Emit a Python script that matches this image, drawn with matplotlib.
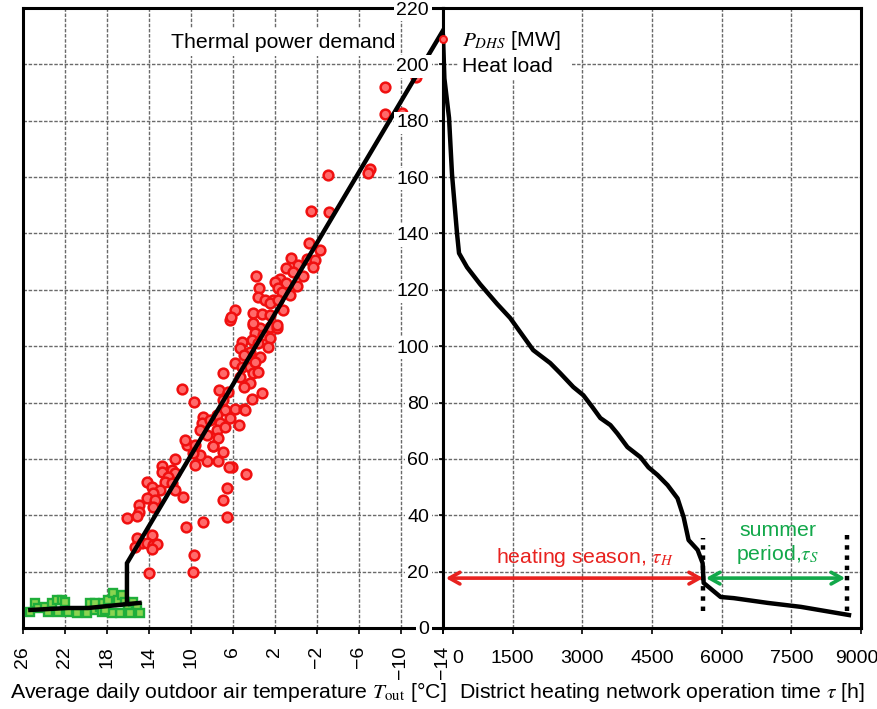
import matplotlib
matplotlib.use("Agg")
import matplotlib.pyplot as plt
from matplotlib.patches import Rectangle
from matplotlib.transforms import ScaledTranslation

plt.rcParams['font.family'] = ['Liberation Sans', 'DejaVu Sans']
plt.rcParams['mathtext.fontset'] = 'stix'

RED = '#e8221f'
GREEN = '#12a84a'

# daily points, heating season (outdoor temp [C], heat demand [MW])
heat_T = [11.5, 12.8, 12.8, 11.8, 11.5, 12.2, 14.2, 12.5, 13.7, 11.8,
          13.0, 13.6, 14.2, 13.4, 15.0, 13.6, 15.0, 15.1, 16.1, 11.5,
          10.8, 10.5, 8.9, 6.6, 7.0, 6.6, 6.1, 4.8, 7.4, 8.5,
          9.6, 9.1, 7.0, 7.9, 9.8, 10.4, 15.1, 13.7, 14.7, 14.2,
          13.6, 13.2, 13.7, 15.3, 9.7, 14.0, 9.8,
          6.3, 4.1, 3.4, 2.5, 1.8, 3.9, 3.1, 2.5, 4.2, 5.1,
          3.6, 2.7, 5.3, 4.4, 5.0, 3.4, 5.8, 5.1, 4.4, 3.9,
          7.0, 4.1, 5.3, 3.6, 4.4, 5.0, 7.3, 6.5, 10.9, 9.7,
          4.2, 3.2, 7.0, 6.8, 5.8, 5.0, 8.9, 7.5, 6.3, 9.0,
          8.2, 7.2, 9.1, 7.5, 6.8, 5.4, 8.5, 7.4, 10.6, 9.6, 7.9,
          -1.4, -3.1, -1.2, -2.3, 0.5, -1.0, -1.8, -0.2, 1.0, -1.6,
          0.3, 3.8, -0.7, 1.5, 2.0, 1.0, 3.5, 1.7, -0.1, 1.3,
          0.6, 3.6, 3.0, 2.2, 2.5, 1.7, 5.8, 6.2, 4.1, 3.2,
          2.5, 1.2, 4.1, 1.8,
          -8.5, -8.5, -10.1, -11.4, -7.0, -6.9, -3.0, 6.4, 4.9]
heat_P = [59.9, 57.4, 55.3, 56.0, 55.0, 53.5, 51.8, 51.8, 50.0, 51.4,
          48.9, 47.9, 46.1, 45.4, 43.6, 42.9, 41.1, 39.7, 39.0, 48.9,
          46.5, 35.8, 37.6, 39.4, 45.4, 49.6, 57.1, 54.6, 59.2, 59.2,
          57.8, 61.3, 62.4, 64.5, 62.1, 64.9, 31.9, 33.0, 30.1, 30.1,
          29.4, 29.8, 28.0, 28.7, 25.9, 19.5, 19.9,
          109.2, 107.4, 106.4, 106.7, 106.4, 104.6, 103.9, 102.8, 102.1, 101.4,
          101.1, 99.6, 99.3, 97.9, 96.8, 96.1, 94.0, 92.6, 92.6, 94.3,
          90.4, 90.4, 89.0, 90.8, 86.9, 85.5, 84.4, 83.7, 84.8, 80.1,
          81.2, 83.3, 80.9, 77.3, 77.7, 77.7, 74.8, 75.5, 74.5, 72.7,
          73.8, 72.7, 70.2, 70.2, 71.3, 72.0, 68.4, 67.4, 66.7, 64.9, 64.5,
          147.9, 147.5, 136.5, 134.0, 131.2, 130.9, 130.5, 128.7, 127.7, 128.0,
          126.2, 124.8, 124.8, 123.8, 122.7, 122.3, 120.6, 120.6, 121.3, 119.1,
          118.1, 117.4, 116.3, 116.3, 115.2, 116.3, 112.8, 110.3, 111.7, 111.3,
          111.0, 112.8, 108.2, 107.4,
          191.8, 182.3, 182.6, 195.4, 162.8, 161.3, 160.6, 57.1, 77.3]

# daily points, summer
summer_T = [25.3, 24.9, 24.6, 23.9, 23.2, 22.8, 22.3, 22.0, 23.6, 22.7,
            21.7, 20.9, 19.9, 19.1, 18.7, 18.4, 17.9, 17.4, 17.0, 16.6,
            16.3, 16.0, 15.5, 15.1, 14.9, 15.8, 16.8, 17.5, 18.5, 19.6,
            19.1, 18.2]
summer_P = [5.7, 8.9, 7.1, 7.4, 8.9, 9.9, 9.9, 9.2, 5.7, 5.7,
            5.7, 5.3, 5.3, 6.4, 7.4, 8.9, 9.9, 12.4, 9.9, 11.7,
            9.2, 7.4, 9.2, 7.4, 5.3, 5.3, 5.3, 5.3, 5.7, 8.9,
            8.9, 6.4]

# fitted demand lines
fit_summer_T = [25.3, 21.7, 19.8, 14.9]
fit_summer_P = [6.4, 7.1, 7.1, 8.9]
fit_heat_T = [16.1, 16.1, -14]
fit_heat_P = [8.6, 23, 212]

# heat load duration curve
dur_h = [0, 30, 130, 194, 302, 345, 518, 799, 1165, 1446, 1619, 1942, 2309,
         2525, 2806, 3022, 3216, 3388, 3604, 3755, 3971, 4252, 4424, 4619,
         4835, 5050, 5180, 5288, 5482, 5590, 5612, 5978, 6259, 6993, 7705, 8741]
dur_P = [210, 195, 181, 161, 140, 133, 128, 122, 115, 110, 106, 98.6, 94,
         90.4, 85.5, 82.6, 78.4, 74.5, 72, 69, 64.2, 60.6, 57, 54.3,
         50.7, 46, 39.4, 31.2, 27.7, 23, 16, 11, 10.6, 8.9, 7.5, 4.6]

season_end = 5600
year_end = 8700
arrow_P = 17.7

T_ticks = list(range(26, -15, -4))
h_ticks = list(range(0, 9001, 1500))
P_ticks = list(range(0, 221, 20))

TXT = 15.3
TCK = 14

fig = plt.figure(figsize=(8.78, 7.09), dpi=100)
ax1 = fig.add_axes([23/878, 1-628/709, 420/878, 620/709])
ax2 = fig.add_axes([443/878, 1-628/709, 418/878, 620/709])

grid_kw = dict(color='#6a6a6a', linestyle=(0, (2.5, 1.2)), linewidth=1.0)

# left panel: demand vs outdoor temperature
ax1.plot(heat_T, heat_P, 'o', ms=7, mfc='#ff6a6a', mec='#f01010', mew=1.8, zorder=3)
ax1.plot(summer_T, summer_P, 's', ms=5.5, mfc='#8ad450', mec='#1fae3a', mew=1.7, zorder=3)
ax1.plot(fit_summer_T, fit_summer_P, color='k', lw=3.2, zorder=4)
ax1.plot(fit_heat_T, fit_heat_P, color='k', lw=3.2, zorder=4, solid_joinstyle='miter')
ax1.set_xlim(26, -14)
ax1.set_ylim(0, 220)
ax1.set_xticks(T_ticks)
ax1.set_xticklabels([str(t).replace('-', '\u2212') for t in T_ticks], rotation=90, va='top')
ax1.set_yticks(P_ticks)
ax1.tick_params(axis='y', left=False, right=False, labelleft=False)
ax1.tick_params(axis='x', length=4, width=1.2, labelsize=TCK, pad=9)
ax1.grid(True, **grid_kw)
for s in ax1.spines.values():
    s.set_linewidth(2.2)
ax1.text(0.886, 0.945, 'Thermal power demand', transform=ax1.transAxes, ha='right',
         va='center', fontsize=TXT, zorder=5,
         bbox=dict(facecolor='white', edgecolor='none', pad=3))

# right panel: heat load duration curve
ax2.plot(dur_h, dur_P, color='k', lw=3.2, zorder=4)
ax2.plot([0], [209], 'o', ms=5, mfc='#ff6a6a', mec='#f01010', mew=1.4, clip_on=False, zorder=5)
ax2.plot([season_end, season_end], [6, 32], color='k', lw=3.2, linestyle=(0, (1, 1.3)), zorder=5)
ax2.plot([year_end, year_end], [6, 33], color='k', lw=3.2, linestyle=(0, (1, 1.3)), zorder=5)
ax2.annotate('', xy=(season_end, arrow_P), xytext=(60, arrow_P),
             arrowprops=dict(arrowstyle='<->,head_length=0.75,head_width=0.42',
                             color=RED, lw=2.6, shrinkA=0, shrinkB=0), zorder=6)
ax2.annotate('', xy=(year_end - 40, arrow_P), xytext=(season_end + 60, arrow_P),
             arrowprops=dict(arrowstyle='<->,head_length=0.75,head_width=0.42',
                             color=GREEN, lw=2.6, shrinkA=0, shrinkB=0), zorder=6)
ax2.text(3065, 25, r'heating season, $\tau_H$', color=RED, ha='center', va='center',
         fontsize=TXT)
ax2.text(7210, 30, 'summer\nperiod,$\\tau_S$', color=GREEN, ha='center', va='center',
         fontsize=TXT, linespacing=1.2)
ax2.add_patch(Rectangle((0.036, 0.884), 0.273, 0.116, transform=ax2.transAxes,
                        facecolor='white', edgecolor='none', zorder=1.8))
ax2.text(0.045, 0.948, r'$P_{DHS}$ [MW]', transform=ax2.transAxes, ha='left',
         va='center', fontsize=TXT, zorder=5)
ax2.text(0.045, 0.906, 'Heat load', transform=ax2.transAxes, ha='left',
         va='center', fontsize=TXT, zorder=5)
ax2.set_xlim(0, 9000)
ax2.set_ylim(0, 220)
ax2.set_xticks(h_ticks)
ax2.set_yticks(P_ticks)
ax2.tick_params(axis='x', length=4, width=1.2, labelsize=TCK, pad=12)
ax2.tick_params(axis='y', length=3, width=1.2, labelsize=TCK, pad=7)
ax2.grid(True, **grid_kw)
for s in ax2.spines.values():
    s.set_linewidth(2.2)
for lbl in ax2.get_yticklabels():
    lbl.set_bbox(dict(facecolor='white', edgecolor='none', pad=2))
xlbls = ax2.get_xticklabels()
xlbls[0].set_transform(xlbls[0].get_transform() + ScaledTranslation(0.15, 0, fig.dpi_scale_trans))
xlbls[-1].set_transform(xlbls[-1].get_transform() + ScaledTranslation(-0.04, 0, fig.dpi_scale_trans))

fig.text(228/878, 1-692/709, r'Average daily outdoor air temperature $T_{\mathrm{out}}$ [°C]',
         ha='center', va='center', fontsize=TXT)
fig.text(662/878, 1-692/709, r'District heating network operation time $\tau$ [h]',
         ha='center', va='center', fontsize=TXT)

fig.savefig('out.png', dpi=100)
